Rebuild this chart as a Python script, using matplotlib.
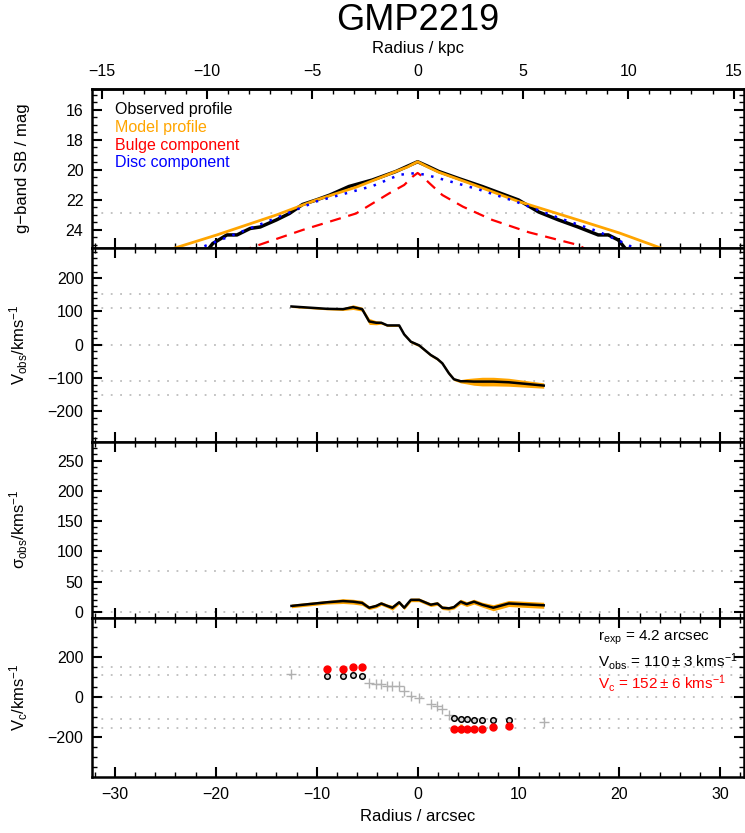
import numpy as np
import matplotlib.pyplot as plt
from matplotlib.ticker import MultipleLocator, FixedLocator

plt.rcParams['font.family'] = ['Liberation Sans', 'DejaVu Sans']
plt.rcParams['mathtext.fontset'] = 'custom'
plt.rcParams['mathtext.rm'] = 'Liberation Sans'
plt.rcParams['mathtext.it'] = 'Liberation Sans:italic'
plt.rcParams['mathtext.bf'] = 'Liberation Sans:bold'

ORANGE = '#ffa500'
GRID = '#bdbdbd'
ARCSEC_TO_KPC = 0.479

# g-band surface brightness profiles (radius in arcsec, mag/arcsec^2)
sb_r_obs = [-21.0, -20.3, -18.9, -17.9, -16.6, -15.6, -14.0, -12.7, -11.4, -10.05,
            -8.7, -6.8, -4.5, -2.15, -1.0, 0.0, 1.0, 2.1, 4.2, 6.4, 8.2, 10.0,
            12.0, 13.97, 15.9, 17.9, 18.9, 19.9, 20.9]
sb_obs = [25.5, 24.9, 24.33, 24.33, 23.9, 23.8, 23.33, 22.9, 22.3, 22.0,
          21.67, 21.1, 20.67, 20.1, 19.75, 19.45, 19.75, 20.1, 20.6, 21.1, 21.55, 22.0,
          22.8, 23.33, 23.8, 24.33, 24.33, 24.67, 25.5]

sb_r_model = [-25.0, -19.9, -14.0, -10.05, -6.1, -2.15, -1.0, 0.0, 1.0, 2.1, 5.0,
              10.0, 15.9, 20.0, 24.5]
sb_model = [25.4, 24.33, 23.0, 22.0, 21.15, 20.1, 19.8, 19.45, 19.8, 20.15, 20.85,
            22.1, 23.33, 24.2, 25.3]

sb_r_bulge = [-17.5, -16.6, -11.4, -6.1, -2.8, -1.33, -0.5, 0.0, 0.5, 1.2, 2.45,
              4.5, 7.4, 11.0, 15.9, 17.0]
sb_bulge = [25.5, 25.2, 24.0, 22.9, 21.55, 21.0, 20.45, 20.2, 20.45, 20.9, 21.67,
            22.45, 23.33, 24.15, 25.0, 25.4]

sb_r_disc = [-22.0, -21.4, -15.3, -10.05, -4.46, -1.83, -0.67, 0.15, 0.7, 2.45,
             6.07, 9.7, 14.0, 17.9, 20.9, 21.6]
sb_disc = [25.4, 25.15, 23.55, 22.1, 21.07, 20.33, 20.22, 20.27, 20.3, 20.62,
           21.3, 22.1, 23.2, 24.1, 25.0, 25.3]
sb_limit = 22.9

# stellar kinematics along the slit
kin_r = [-12.5, -9.0, -7.4, -6.4, -5.5, -4.8, -4.1, -3.6, -3.0, -2.5, -1.83, -1.33,
         -0.67, 0.15, 1.3, 1.96, 2.45, 3.1, 3.6, 4.26, 4.86, 5.58, 6.4, 7.5, 9.03, 12.5]
v_obs = [115, 108, 107, 113, 107, 70, 66, 66, 58, 58, 58, 31,
         9, -2, -31, -43, -56, -86, -104, -110, -110, -111, -111, -111, -113, -123]
v_err = [3, 3, 4, 7, 6, 9, 6, 4, 3, 3, 3, 4,
         4, 4, 4, 4, 4, 5, 4, 5, 8, 11, 13, 13, 12, 8]
sigma_obs = [10, 16, 18, 17, 15, 7, 10, 14, 10, 7, 16, 7,
             20, 20, 12, 14, 7, 6, 8, 17, 13, 17, 12, 7, 14, 11]
sigma_err = [3, 3, 4, 4, 4, 3, 3, 3, 3, 4, 3, 3,
             3, 3, 3, 3, 3, 3, 3, 4, 4, 4, 4, 5, 5, 5]

# points used for the circular velocity
vc_r = [-9.0, -7.4, -6.4, -5.5, 3.6, 4.26, 4.86, 5.58, 6.4, 7.5, 9.03]
vc = [142, 142, 153, 150, -156, -156, -156, -156, -156, -148, -145]
vc_err = [6, 6, 6, 6, 6, 22, 6, 6, 6, 6, 6]

r_exp = 4.2
v_flat, v_flat_err = 110, 3
v_circ, v_circ_err = 152, 6
sigma_ref = 68

kin_r = np.array(kin_r)
v_obs = np.array(v_obs)
v_err = np.array(v_err)
sigma_obs = np.array(sigma_obs)
sigma_err = np.array(sigma_err)

fig = plt.figure(figsize=(7.45, 8.33), dpi=100)
left, width = 0.1231, 0.8749
ax_sb = fig.add_axes([left, 0.7023, width, 0.1909])
ax_v = fig.add_axes([left, 0.4697, width, 0.2326])
ax_s = fig.add_axes([left, 0.2585, width, 0.2112])
ax_c = fig.add_axes([left, 0.0672, width, 0.1913])


def style(ax, ymaj, ymin, top=True):
    ax.set_xlim(-32.3, 32.3)
    ax.xaxis.set_major_locator(MultipleLocator(10))
    ax.xaxis.set_minor_locator(MultipleLocator(2))
    ax.yaxis.set_major_locator(MultipleLocator(ymaj))
    ax.yaxis.set_minor_locator(MultipleLocator(ymin))
    ax.tick_params(which='both', direction='in', top=top, right=True,
                   width=1.5, labelsize=11.5, labelbottom=False)
    ax.tick_params(axis='y', pad=6)
    ax.tick_params(axis='x', pad=7)
    ax.tick_params(which='major', length=7)
    ax.tick_params(which='minor', length=3.5, width=1.0)
    for sp in ax.spines.values():
        sp.set_linewidth(1.8)
    ax.yaxis.set_label_coords(-0.095, 0.5)


def hlines(ax, levels):
    for y in levels:
        ax.axhline(y, color=GRID, lw=1.3, ls=(0, (1, 4.2)), zorder=0)


# surface brightness
style(ax_sb, 2, 0.5, top=False)
ax_sb.set_ylim(25.2, 14.6)
hlines(ax_sb, [sb_limit])
ax_sb.plot(sb_r_obs, sb_obs, color='black', lw=2.5)
ax_sb.plot(sb_r_model, sb_model, color=ORANGE, lw=2.0)
ax_sb.plot(sb_r_bulge, sb_bulge, color='red', lw=1.6, ls=(0, (5, 3.5)))
ax_sb.plot(sb_r_disc, sb_disc, color='blue', lw=1.8, ls=(0, (1, 3)))
ax_sb.set_ylabel('g\u2212band SB / mag', fontsize=12)
for i, (txt, col) in enumerate([('Observed profile', 'black'),
                                 ('Model profile', ORANGE),
                                 ('Bulge component', 'red'),
                                 ('Disc component', 'blue')]):
    ax_sb.text(0.0357, 0.868 - i * 0.111, txt, color=col, fontsize=11.5,
               transform=ax_sb.transAxes, va='center', ha='left')

sec = ax_sb.secondary_xaxis('top', functions=(lambda x: x * ARCSEC_TO_KPC,
                                              lambda k: k / ARCSEC_TO_KPC))
sec.xaxis.set_major_locator(FixedLocator([-15, -10, -5, 0, 5, 10, 15]))
sec.xaxis.set_minor_locator(FixedLocator(np.arange(-15, 16, 1)))
sec.tick_params(which='both', direction='in', width=1.5, labelsize=11.5, pad=7)
sec.tick_params(which='major', length=7)
sec.tick_params(which='minor', length=3.5, width=1.0)
sec.spines['top'].set_linewidth(1.8)
sec.set_xlabel('Radius / kpc', fontsize=12, labelpad=8)

# observed rotation
style(ax_v, 100, 20)
ax_v.set_ylim(-292, 291)
hlines(ax_v, [v_circ, v_flat, 0, -v_flat, -v_circ])
ax_v.fill_between(kin_r, v_obs - v_err, v_obs + v_err, color=ORANGE, lw=0)
ax_v.plot(kin_r, v_obs, color='black', lw=1.8)
ax_v.set_ylabel('V$_{\\rm obs}$/kms$^{-1}$', fontsize=12)

# velocity dispersion
style(ax_s, 50, 10)
ax_s.set_ylim(-9.4, 281)
hlines(ax_s, [sigma_ref, 0])
ax_s.fill_between(kin_r, sigma_obs - sigma_err, sigma_obs + sigma_err,
                  color=ORANGE, lw=0)
ax_s.plot(kin_r, sigma_obs, color='black', lw=1.8)
ax_s.set_ylabel('\u03c3$_{\\rm obs}$/kms$^{-1}$', fontsize=12)

# circular velocity
style(ax_c, 200, 50)
ax_c.set_ylim(-398, 399)
ax_c.yaxis.set_major_locator(FixedLocator([-200, 0, 200]))
ax_c.tick_params(labelbottom=True)
hlines(ax_c, [v_circ, v_flat, 0, -v_flat, -v_circ])
used = np.isin(kin_r, vc_r)
ax_c.plot(kin_r[~used], v_obs[~used], '+', color='#b0b0b0', ms=7, mew=1.0)
ax_c.plot(kin_r[used], v_obs[used], 'o', mfc='#d9d9d9', mec='black', ms=4, mew=1.1)
ax_c.errorbar(vc_r, vc, yerr=vc_err, fmt='o', color='red', ecolor=ORANGE,
              elinewidth=1.8, capsize=0, ms=5)
ax_c.set_ylabel('V$_{\\rm c}$/kms$^{-1}$', fontsize=12)
ax_c.set_xlabel('Radius / arcsec', fontsize=12, labelpad=5)
ax_c.text(0.776, 0.874, 'r$_{\\rm exp}$ = %.1f arcsec' % r_exp, fontsize=11,
          transform=ax_c.transAxes, va='center')
ax_c.text(0.776, 0.724, 'V$_{\\rm obs}$ = %d\u2009\u00b1\u2009%d kms$^{-1}$' % (v_flat, v_flat_err),
          fontsize=11, transform=ax_c.transAxes, va='center')
ax_c.text(0.776, 0.588, 'V$_{\\rm c}$ = %d\u2009\u00b1\u2009%d kms$^{-1}$' % (v_circ, v_circ_err),
          fontsize=11, color='red', transform=ax_c.transAxes, va='center')

fig.text(left + width / 2, 1 - 21 / 833, 'GMP2219', ha='center', va='center', fontsize=26)

fig.savefig('out.png', dpi=100)
